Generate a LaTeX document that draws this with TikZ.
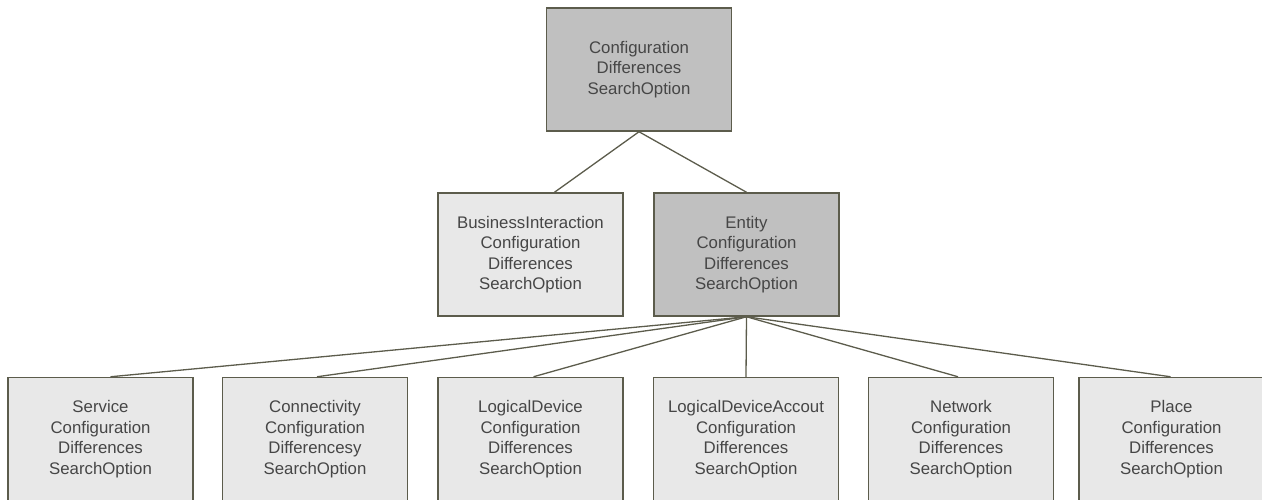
\documentclass[tikz,border=0pt]{standalone}
\usepackage{fontspec}
\setmainfont{Liberation Sans}
\definecolor{darkfill}{HTML}{C0C0C0}
\definecolor{lightfill}{HTML}{E8E8E8}
\definecolor{edge}{HTML}{5C5C4C}
\definecolor{txt}{HTML}{464646}
\begin{document}
\begin{tikzpicture}[x=1pt,y=-1pt,
  box/.style={draw=edge, line width=1.5pt, minimum width=185pt, minimum height=123pt,
    align=center, inner sep=0pt, text=txt, font=\fontsize{16.8}{20.5}\selectfont},
  dark/.style={box, fill=darkfill},
  light/.style={box, fill=lightfill},
  conn/.style={draw=edge, line width=1.3pt}]
\useasboundingbox (0,0) rectangle (1262,499);
\clip (0,0) rectangle (1262,499);
\node[dark]  (root) at (639,69.5)    {Configuration\\Differences\\SearchOption};
\node[light] (bi)   at (530.5,254.5) {BusinessInteraction\\Configuration\\Differences\\SearchOption};
\node[dark]  (ent)  at (746.5,254.5) {Entity\\Configuration\\Differences\\SearchOption};
\node[light] (s1) at (100.5,439)  {Service\\Configuration\\Differences\\SearchOption};
\node[light] (s2) at (315,439)    {Connectivity\\Configuration\\Differencesy\\SearchOption};
\node[light] (s3) at (530.5,439)  {LogicalDevice\\Configuration\\Differences\\SearchOption};
\node[light] (s4) at (746,439)    {LogicalDeviceAccout\\Configuration\\Differences\\SearchOption};
\node[light] (s5) at (961,439)    {Network\\Configuration\\Differences\\SearchOption};
\node[light] (s6) at (1171.5,439) {Place\\Configuration\\Differences\\SearchOption};
\draw[conn] (root.south) -- ([xshift=24pt]bi.north);
\draw[conn] (root.south) -- (ent.north);
\draw[conn] (ent.south) -- ([xshift=10pt]s1.north);
\draw[conn] (ent.south) -- ([xshift=2pt]s2.north);
\draw[conn] (ent.south) -- ([xshift=3pt]s3.north);
\draw[conn] (ent.south) -- (s4.north);
\draw[conn] (ent.south) -- ([xshift=-3pt]s5.north);
\draw[conn] (ent.south) -- ([xshift=-1pt]s6.north);
\end{tikzpicture}
\end{document}
